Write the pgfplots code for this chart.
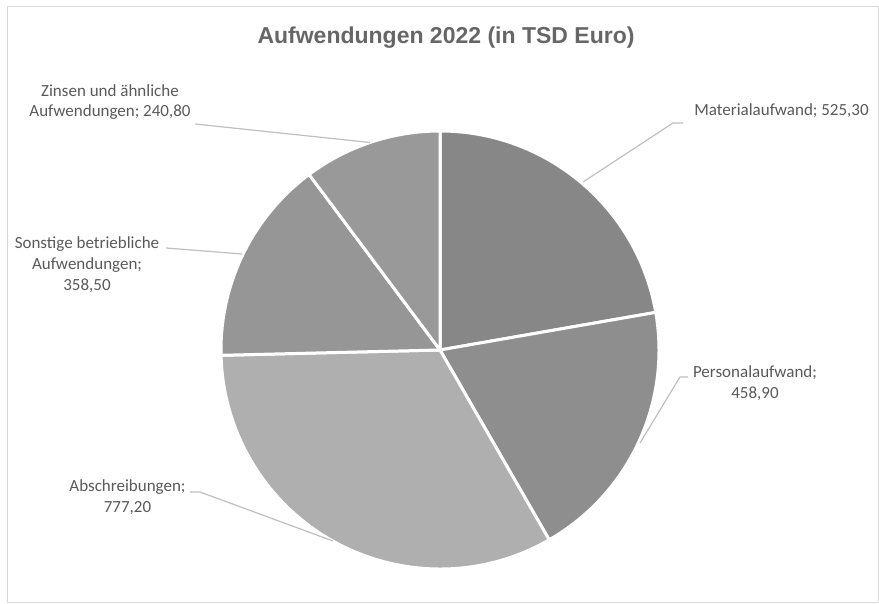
\documentclass[border=0pt]{standalone}
\usepackage{pgfplots}
\usepackage{pgfplotstable}
\pgfplotsset{compat=1.18}
\usepackage{fontspec}
\setmainfont{Carlito}
\newfontfamily\titlefont{Liberation Sans}
\definecolor{labc}{HTML}{595959}
\definecolor{titc}{HTML}{666666}
\definecolor{leadc}{HTML}{BFBFBF}
\definecolor{framec}{HTML}{D9D9D9}

% value ; grey level (0-255)
\pgfplotstableread{
value gray
525.30 135
458.90 142
777.20 175
358.50 150
240.80 153
}\datatable

\begin{document}
\begin{tikzpicture}
\begin{axis}[x=1pt,y=1pt,xmin=0,xmax=879,ymin=0,ymax=604,
  hide axis,clip=false,scale only axis]
\pgfplotsextra{
  \path (axis cs:0,0) rectangle (axis cs:879,604);
  \draw[framec,line width=1pt] (axis cs:7,1) rectangle (axis cs:878,597);
  \pgfmathsetmacro\total{0}
  \foreach \i in {0,...,4}{
    \pgfplotstablegetelem{\i}{value}\of\datatable
    \pgfmathsetmacro\tmp{\total+\pgfplotsretval}
    \global\let\total\tmp
  }
  \gdef\cur{90}
  \foreach \i in {0,...,4}{
    \pgfplotstablegetelem{\i}{value}\of\datatable
    \pgfmathsetmacro\frac{\pgfplotsretval/\total}
    \pgfmathsetmacro\sweep{\frac*360}
    \pgfplotstablegetelem{\i}{gray}\of\datatable
    \edef\tmpc{\noexpand\definecolor{slc}{RGB}{\pgfplotsretval,\pgfplotsretval,\pgfplotsretval}}\tmpc
    \pgfmathsetmacro\endang{\cur-\sweep}
    \filldraw[fill=slc,draw=white,line width=3pt,line join=round]
      (axis cs:440,254) -- ++(\cur:219pt) arc[start angle=\cur,end angle=\endang,radius=219pt] -- cycle;
    \global\let\cur\endang
  }
  % leader lines
  \draw[leadc,line width=1.2pt] (axis cs:195,480) -- (axis cs:370,461.5);
  \draw[leadc,line width=1.2pt] (axis cs:683,481) -- (axis cs:673,481) -- (axis cs:583,422);
  \draw[leadc,line width=1.2pt] (axis cs:166,356) -- (axis cs:242,350);
  \draw[leadc,line width=1.2pt] (axis cs:688,227) -- (axis cs:680,227) -- (axis cs:640,161);
  \draw[leadc,line width=1.2pt] (axis cs:190,112) -- (axis cs:200,112) -- (axis cs:333,63);
}
\node[font=\titlefont\bfseries\fontsize{23}{27}\selectfont,text=titc] at (axis cs:446,566) {Aufwendungen 2022 (in TSD Euro)};
\tikzset{lab/.style={font=\fontsize{17}{20.7}\selectfont,text=labc,align=center,inner sep=0pt}}
\node[lab] at (axis cs:110,502) {Zinsen und ähnliche\\Aufwendungen; 240,80};
\node[lab] at (axis cs:781.5,493) {Materialaufwand; 525,30};
\node[lab] at (axis cs:87,339.5) {Sonstige betriebliche\\Aufwendungen;\\358,50};
\node[lab] at (axis cs:755,221) {Personalaufwand;\\458,90};
\node[lab] at (axis cs:127.5,106.5) {Abschreibungen;\\777,20};
\end{axis}
\end{tikzpicture}
\end{document}
